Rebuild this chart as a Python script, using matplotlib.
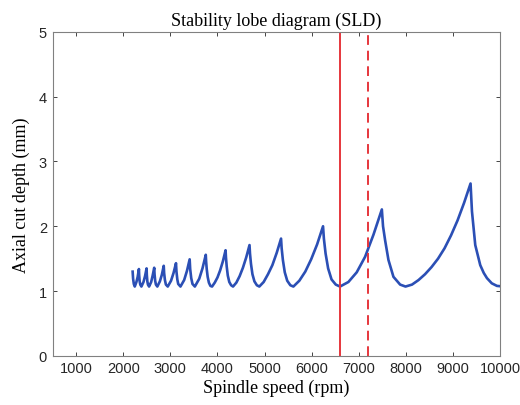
import matplotlib.pyplot as plt

# points (rpm, mm)
speed = [2200, 2210, 2225, 2245, 2280, 2307, 2333,
         2338, 2349, 2362, 2386, 2430, 2463, 2496,
         2501, 2512, 2525, 2549, 2593, 2625, 2658,
         2665, 2678, 2694, 2724, 2778, 2819, 2860,
         2868, 2885, 2906, 2945, 3015, 3068, 3120,
         3130, 3148, 3167, 3215, 3293, 3352, 3410,
         3421, 3443, 3470, 3520, 3613, 3682, 3752,
         3759, 3772, 3792, 3818, 3850, 3885, 3942, 4000, 4057, 4115, 4172,
         4180, 4196, 4219, 4251, 4290, 4330, 4400, 4470, 4540, 4610, 4680,
         4690, 4711, 4742, 4784, 4836, 4888, 4980, 5072, 5165, 5257, 5349,
         5362, 5388, 5428, 5480, 5546, 5611, 5737, 5863, 5988, 6114, 6240,
         6258, 6294, 6348, 6420, 6510, 6600, 6778, 6955, 7133, 7310, 7488,
         7513, 7558, 7628, 7734, 7876, 7990, 8128, 8266, 8404, 8542, 8680,
         8818, 8956, 9094, 9232, 9370,
         9400, 9470, 9576, 9650, 9718, 9820, 9930, 10000]
depth = [1.30, 1.19, 1.11, 1.07, 1.14, 1.22, 1.34,
         1.25, 1.15, 1.10, 1.07, 1.14, 1.23, 1.35,
         1.25, 1.15, 1.10, 1.07, 1.14, 1.24, 1.36,
         1.26, 1.16, 1.10, 1.07, 1.15, 1.25, 1.39,
         1.28, 1.17, 1.10, 1.07, 1.16, 1.28, 1.43,
         1.30, 1.18, 1.11, 1.07, 1.17, 1.31, 1.49,
         1.34, 1.20, 1.11, 1.07, 1.19, 1.35, 1.56,
         1.46, 1.34, 1.22, 1.13, 1.08, 1.07, 1.13, 1.21, 1.32, 1.46, 1.63,
         1.52, 1.38, 1.24, 1.14, 1.09, 1.07, 1.13, 1.23, 1.36, 1.52, 1.71,
         1.58, 1.42, 1.26, 1.15, 1.09, 1.07, 1.14, 1.26, 1.40, 1.59, 1.81,
         1.66, 1.48, 1.29, 1.16, 1.09, 1.07, 1.16, 1.30, 1.49, 1.72, 2.00,
         1.81, 1.58, 1.35, 1.18, 1.10, 1.07, 1.14, 1.29, 1.53, 1.87, 2.26,
         2.00, 1.78, 1.48, 1.22, 1.10, 1.07, 1.10, 1.17, 1.26, 1.37, 1.50,
         1.66, 1.86, 2.09, 2.36, 2.66,
         2.23, 1.71, 1.40, 1.28, 1.20, 1.12, 1.08, 1.075]

n_solid = 6600   # chosen spindle speed
n_dashed = 7200

xticks = [1000, 2000, 3000, 4000, 5000, 6000, 7000, 8000, 9000, 10000]
yticks = [0, 1, 2, 3, 4, 5]

fig = plt.figure(figsize=(5.2, 4.06), dpi=100)
ax = fig.add_axes([0.101, 0.121, 0.861, 0.798])

ax.plot(speed, depth, color='#2b4fb5', linewidth=1.9)
ax.axvline(n_solid, color='#e6363c', linewidth=1.4)
ax.axvline(n_dashed, color='#e6363c', linewidth=1.4, linestyle=(0, (5, 3)))

ax.set_xlim(500, 10000)
ax.set_ylim(0, 5)
ax.set_xticks(xticks)
ax.set_yticks(yticks)
ax.tick_params(direction='in', length=3, width=0.6, colors='#262626',
               labelsize=10.5, top=True, right=True, pad=4)
for lab in ax.get_xticklabels() + ax.get_yticklabels():
    lab.set_family('Liberation Sans')
for s in ax.spines.values():
    s.set_color('#808080')
    s.set_linewidth(0.8)

serif = {'family': 'Liberation Serif', 'size': 13}
ax.set_title('Stability lobe diagram (SLD)', fontdict=serif, pad=5)
ax.set_xlabel('Spindle speed (rpm)', fontdict=serif, labelpad=2)
ax.set_ylabel('Axial cut depth (mm)', fontdict=serif, labelpad=6)

fig.savefig('out.png', dpi=100)
